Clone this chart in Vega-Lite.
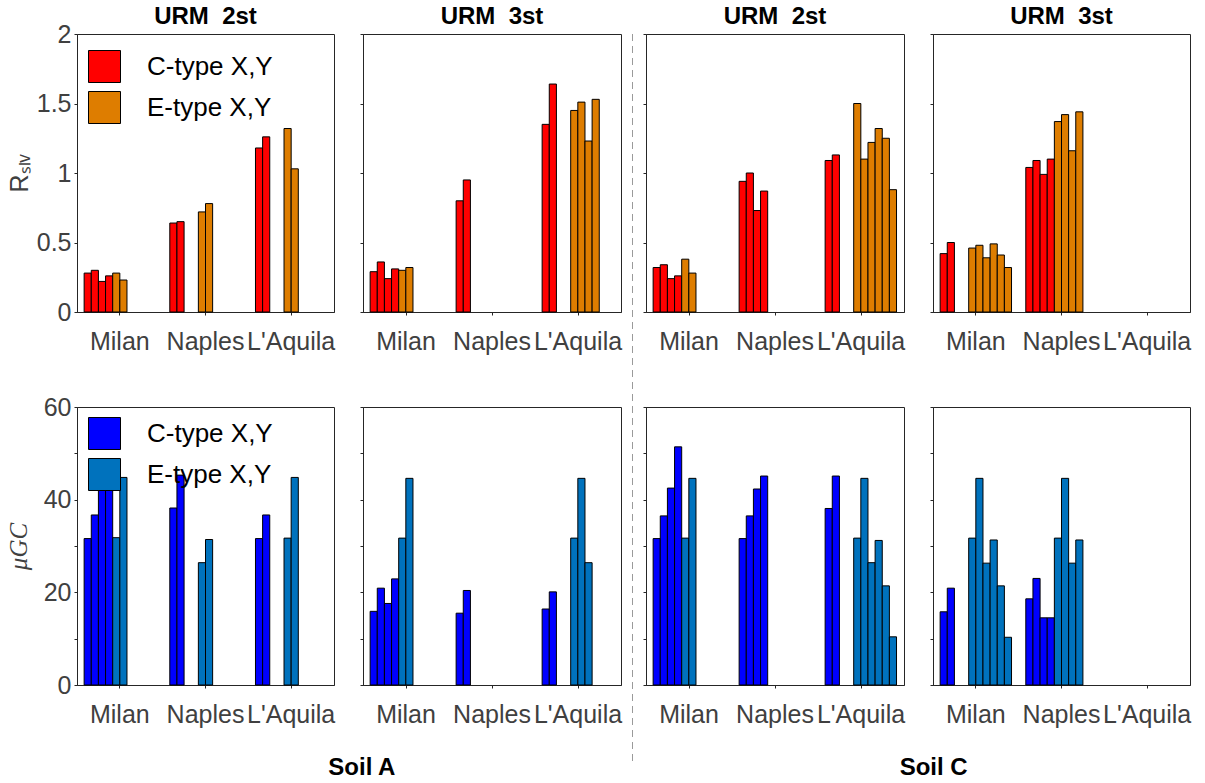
{
  "$schema": "https://vega.github.io/schema/vega-lite/v6.json",
  "background": "white",
  "padding": {"left": 5, "top": 4, "right": 6, "bottom": 4},
  "config": {
    "font": "Liberation Sans",
    "view": {"stroke": "#262626", "strokeWidth": 1},
    "axis": {"labelFont": "Liberation Sans", "labelFontSize": 25, "labelColor": "#404040", "titleFont": "Liberation Sans", "titleFontSize": 25, "titleFontWeight": "normal", "titleColor": "#404040", "domainColor": "#262626", "tickColor": "#262626", "domainWidth": 1, "tickWidth": 1, "tickSize": 3, "grid": false},
    "title": {"font": "Liberation Sans", "fontSize": 24, "fontWeight": "bold", "color": "#000000", "offset": 5, "anchor": "middle"}
  },
  "datasets": {
    "bars": [
      {"metric": "R", "soil": "A", "urm": "2st", "city": "Milan", "slot": 0, "type": "C-type X,Y", "value": 0.28},
      {"metric": "R", "soil": "A", "urm": "2st", "city": "Milan", "slot": 1, "type": "C-type X,Y", "value": 0.30},
      {"metric": "R", "soil": "A", "urm": "2st", "city": "Milan", "slot": 2, "type": "C-type X,Y", "value": 0.22},
      {"metric": "R", "soil": "A", "urm": "2st", "city": "Milan", "slot": 3, "type": "C-type X,Y", "value": 0.26},
      {"metric": "R", "soil": "A", "urm": "2st", "city": "Milan", "slot": 4, "type": "E-type X,Y", "value": 0.28},
      {"metric": "R", "soil": "A", "urm": "2st", "city": "Milan", "slot": 5, "type": "E-type X,Y", "value": 0.23},
      {"metric": "R", "soil": "A", "urm": "2st", "city": "Naples", "slot": 0, "type": "C-type X,Y", "value": 0.64},
      {"metric": "R", "soil": "A", "urm": "2st", "city": "Naples", "slot": 1, "type": "C-type X,Y", "value": 0.65},
      {"metric": "R", "soil": "A", "urm": "2st", "city": "Naples", "slot": 4, "type": "E-type X,Y", "value": 0.72},
      {"metric": "R", "soil": "A", "urm": "2st", "city": "Naples", "slot": 5, "type": "E-type X,Y", "value": 0.78},
      {"metric": "R", "soil": "A", "urm": "2st", "city": "L'Aquila", "slot": 0, "type": "C-type X,Y", "value": 1.18},
      {"metric": "R", "soil": "A", "urm": "2st", "city": "L'Aquila", "slot": 1, "type": "C-type X,Y", "value": 1.26},
      {"metric": "R", "soil": "A", "urm": "2st", "city": "L'Aquila", "slot": 4, "type": "E-type X,Y", "value": 1.32},
      {"metric": "R", "soil": "A", "urm": "2st", "city": "L'Aquila", "slot": 5, "type": "E-type X,Y", "value": 1.03},
      {"metric": "R", "soil": "A", "urm": "3st", "city": "Milan", "slot": 0, "type": "C-type X,Y", "value": 0.29},
      {"metric": "R", "soil": "A", "urm": "3st", "city": "Milan", "slot": 1, "type": "C-type X,Y", "value": 0.36},
      {"metric": "R", "soil": "A", "urm": "3st", "city": "Milan", "slot": 2, "type": "C-type X,Y", "value": 0.24},
      {"metric": "R", "soil": "A", "urm": "3st", "city": "Milan", "slot": 3, "type": "C-type X,Y", "value": 0.31},
      {"metric": "R", "soil": "A", "urm": "3st", "city": "Milan", "slot": 4, "type": "E-type X,Y", "value": 0.30},
      {"metric": "R", "soil": "A", "urm": "3st", "city": "Milan", "slot": 5, "type": "E-type X,Y", "value": 0.32},
      {"metric": "R", "soil": "A", "urm": "3st", "city": "Naples", "slot": 0, "type": "C-type X,Y", "value": 0.80},
      {"metric": "R", "soil": "A", "urm": "3st", "city": "Naples", "slot": 1, "type": "C-type X,Y", "value": 0.95},
      {"metric": "R", "soil": "A", "urm": "3st", "city": "L'Aquila", "slot": 0, "type": "C-type X,Y", "value": 1.35},
      {"metric": "R", "soil": "A", "urm": "3st", "city": "L'Aquila", "slot": 1, "type": "C-type X,Y", "value": 1.64},
      {"metric": "R", "soil": "A", "urm": "3st", "city": "L'Aquila", "slot": 4, "type": "E-type X,Y", "value": 1.45},
      {"metric": "R", "soil": "A", "urm": "3st", "city": "L'Aquila", "slot": 5, "type": "E-type X,Y", "value": 1.51},
      {"metric": "R", "soil": "A", "urm": "3st", "city": "L'Aquila", "slot": 6, "type": "E-type X,Y", "value": 1.23},
      {"metric": "R", "soil": "A", "urm": "3st", "city": "L'Aquila", "slot": 7, "type": "E-type X,Y", "value": 1.53},
      {"metric": "R", "soil": "C", "urm": "2st", "city": "Milan", "slot": 0, "type": "C-type X,Y", "value": 0.32},
      {"metric": "R", "soil": "C", "urm": "2st", "city": "Milan", "slot": 1, "type": "C-type X,Y", "value": 0.34},
      {"metric": "R", "soil": "C", "urm": "2st", "city": "Milan", "slot": 2, "type": "C-type X,Y", "value": 0.24},
      {"metric": "R", "soil": "C", "urm": "2st", "city": "Milan", "slot": 3, "type": "C-type X,Y", "value": 0.26},
      {"metric": "R", "soil": "C", "urm": "2st", "city": "Milan", "slot": 4, "type": "E-type X,Y", "value": 0.38},
      {"metric": "R", "soil": "C", "urm": "2st", "city": "Milan", "slot": 5, "type": "E-type X,Y", "value": 0.28},
      {"metric": "R", "soil": "C", "urm": "2st", "city": "Naples", "slot": 0, "type": "C-type X,Y", "value": 0.94},
      {"metric": "R", "soil": "C", "urm": "2st", "city": "Naples", "slot": 1, "type": "C-type X,Y", "value": 1.00},
      {"metric": "R", "soil": "C", "urm": "2st", "city": "Naples", "slot": 2, "type": "C-type X,Y", "value": 0.73},
      {"metric": "R", "soil": "C", "urm": "2st", "city": "Naples", "slot": 3, "type": "C-type X,Y", "value": 0.87},
      {"metric": "R", "soil": "C", "urm": "2st", "city": "L'Aquila", "slot": 0, "type": "C-type X,Y", "value": 1.09},
      {"metric": "R", "soil": "C", "urm": "2st", "city": "L'Aquila", "slot": 1, "type": "C-type X,Y", "value": 1.13},
      {"metric": "R", "soil": "C", "urm": "2st", "city": "L'Aquila", "slot": 4, "type": "E-type X,Y", "value": 1.50},
      {"metric": "R", "soil": "C", "urm": "2st", "city": "L'Aquila", "slot": 5, "type": "E-type X,Y", "value": 1.10},
      {"metric": "R", "soil": "C", "urm": "2st", "city": "L'Aquila", "slot": 6, "type": "E-type X,Y", "value": 1.22},
      {"metric": "R", "soil": "C", "urm": "2st", "city": "L'Aquila", "slot": 7, "type": "E-type X,Y", "value": 1.32},
      {"metric": "R", "soil": "C", "urm": "2st", "city": "L'Aquila", "slot": 8, "type": "E-type X,Y", "value": 1.25},
      {"metric": "R", "soil": "C", "urm": "2st", "city": "L'Aquila", "slot": 9, "type": "E-type X,Y", "value": 0.88},
      {"metric": "R", "soil": "C", "urm": "3st", "city": "Milan", "slot": 0, "type": "C-type X,Y", "value": 0.42},
      {"metric": "R", "soil": "C", "urm": "3st", "city": "Milan", "slot": 1, "type": "C-type X,Y", "value": 0.50},
      {"metric": "R", "soil": "C", "urm": "3st", "city": "Milan", "slot": 4, "type": "E-type X,Y", "value": 0.46},
      {"metric": "R", "soil": "C", "urm": "3st", "city": "Milan", "slot": 5, "type": "E-type X,Y", "value": 0.48},
      {"metric": "R", "soil": "C", "urm": "3st", "city": "Milan", "slot": 6, "type": "E-type X,Y", "value": 0.39},
      {"metric": "R", "soil": "C", "urm": "3st", "city": "Milan", "slot": 7, "type": "E-type X,Y", "value": 0.49},
      {"metric": "R", "soil": "C", "urm": "3st", "city": "Milan", "slot": 8, "type": "E-type X,Y", "value": 0.41},
      {"metric": "R", "soil": "C", "urm": "3st", "city": "Milan", "slot": 9, "type": "E-type X,Y", "value": 0.32},
      {"metric": "R", "soil": "C", "urm": "3st", "city": "Naples", "slot": 0, "type": "C-type X,Y", "value": 1.04},
      {"metric": "R", "soil": "C", "urm": "3st", "city": "Naples", "slot": 1, "type": "C-type X,Y", "value": 1.09},
      {"metric": "R", "soil": "C", "urm": "3st", "city": "Naples", "slot": 2, "type": "C-type X,Y", "value": 0.99},
      {"metric": "R", "soil": "C", "urm": "3st", "city": "Naples", "slot": 3, "type": "C-type X,Y", "value": 1.10},
      {"metric": "R", "soil": "C", "urm": "3st", "city": "Naples", "slot": 4, "type": "E-type X,Y", "value": 1.37},
      {"metric": "R", "soil": "C", "urm": "3st", "city": "Naples", "slot": 5, "type": "E-type X,Y", "value": 1.42},
      {"metric": "R", "soil": "C", "urm": "3st", "city": "Naples", "slot": 6, "type": "E-type X,Y", "value": 1.16},
      {"metric": "R", "soil": "C", "urm": "3st", "city": "Naples", "slot": 7, "type": "E-type X,Y", "value": 1.44},
      {"metric": "mu", "soil": "A", "urm": "2st", "city": "Milan", "slot": 0, "type": "C-type X,Y", "value": 31.6},
      {"metric": "mu", "soil": "A", "urm": "2st", "city": "Milan", "slot": 1, "type": "C-type X,Y", "value": 36.7},
      {"metric": "mu", "soil": "A", "urm": "2st", "city": "Milan", "slot": 2, "type": "C-type X,Y", "value": 42.5},
      {"metric": "mu", "soil": "A", "urm": "2st", "city": "Milan", "slot": 3, "type": "C-type X,Y", "value": 45.3},
      {"metric": "mu", "soil": "A", "urm": "2st", "city": "Milan", "slot": 4, "type": "E-type X,Y", "value": 31.8},
      {"metric": "mu", "soil": "A", "urm": "2st", "city": "Milan", "slot": 5, "type": "E-type X,Y", "value": 44.8},
      {"metric": "mu", "soil": "A", "urm": "2st", "city": "Naples", "slot": 0, "type": "C-type X,Y", "value": 38.2},
      {"metric": "mu", "soil": "A", "urm": "2st", "city": "Naples", "slot": 1, "type": "C-type X,Y", "value": 45.3},
      {"metric": "mu", "soil": "A", "urm": "2st", "city": "Naples", "slot": 4, "type": "E-type X,Y", "value": 26.4},
      {"metric": "mu", "soil": "A", "urm": "2st", "city": "Naples", "slot": 5, "type": "E-type X,Y", "value": 31.4},
      {"metric": "mu", "soil": "A", "urm": "2st", "city": "L'Aquila", "slot": 0, "type": "C-type X,Y", "value": 31.6},
      {"metric": "mu", "soil": "A", "urm": "2st", "city": "L'Aquila", "slot": 1, "type": "C-type X,Y", "value": 36.7},
      {"metric": "mu", "soil": "A", "urm": "2st", "city": "L'Aquila", "slot": 4, "type": "E-type X,Y", "value": 31.7},
      {"metric": "mu", "soil": "A", "urm": "2st", "city": "L'Aquila", "slot": 5, "type": "E-type X,Y", "value": 44.8},
      {"metric": "mu", "soil": "A", "urm": "3st", "city": "Milan", "slot": 0, "type": "C-type X,Y", "value": 15.9},
      {"metric": "mu", "soil": "A", "urm": "3st", "city": "Milan", "slot": 1, "type": "C-type X,Y", "value": 20.9},
      {"metric": "mu", "soil": "A", "urm": "3st", "city": "Milan", "slot": 2, "type": "C-type X,Y", "value": 17.6},
      {"metric": "mu", "soil": "A", "urm": "3st", "city": "Milan", "slot": 3, "type": "C-type X,Y", "value": 22.9},
      {"metric": "mu", "soil": "A", "urm": "3st", "city": "Milan", "slot": 4, "type": "E-type X,Y", "value": 31.7},
      {"metric": "mu", "soil": "A", "urm": "3st", "city": "Milan", "slot": 5, "type": "E-type X,Y", "value": 44.6},
      {"metric": "mu", "soil": "A", "urm": "3st", "city": "Naples", "slot": 0, "type": "C-type X,Y", "value": 15.5},
      {"metric": "mu", "soil": "A", "urm": "3st", "city": "Naples", "slot": 1, "type": "C-type X,Y", "value": 20.4},
      {"metric": "mu", "soil": "A", "urm": "3st", "city": "L'Aquila", "slot": 0, "type": "C-type X,Y", "value": 16.4},
      {"metric": "mu", "soil": "A", "urm": "3st", "city": "L'Aquila", "slot": 1, "type": "C-type X,Y", "value": 20.1},
      {"metric": "mu", "soil": "A", "urm": "3st", "city": "L'Aquila", "slot": 4, "type": "E-type X,Y", "value": 31.7},
      {"metric": "mu", "soil": "A", "urm": "3st", "city": "L'Aquila", "slot": 5, "type": "E-type X,Y", "value": 44.6},
      {"metric": "mu", "soil": "A", "urm": "3st", "city": "L'Aquila", "slot": 6, "type": "E-type X,Y", "value": 26.4},
      {"metric": "mu", "soil": "C", "urm": "2st", "city": "Milan", "slot": 0, "type": "C-type X,Y", "value": 31.6},
      {"metric": "mu", "soil": "C", "urm": "2st", "city": "Milan", "slot": 1, "type": "C-type X,Y", "value": 36.5},
      {"metric": "mu", "soil": "C", "urm": "2st", "city": "Milan", "slot": 2, "type": "C-type X,Y", "value": 42.5},
      {"metric": "mu", "soil": "C", "urm": "2st", "city": "Milan", "slot": 3, "type": "C-type X,Y", "value": 51.4},
      {"metric": "mu", "soil": "C", "urm": "2st", "city": "Milan", "slot": 4, "type": "E-type X,Y", "value": 31.7},
      {"metric": "mu", "soil": "C", "urm": "2st", "city": "Milan", "slot": 5, "type": "E-type X,Y", "value": 44.6},
      {"metric": "mu", "soil": "C", "urm": "2st", "city": "Naples", "slot": 0, "type": "C-type X,Y", "value": 31.6},
      {"metric": "mu", "soil": "C", "urm": "2st", "city": "Naples", "slot": 1, "type": "C-type X,Y", "value": 36.5},
      {"metric": "mu", "soil": "C", "urm": "2st", "city": "Naples", "slot": 2, "type": "C-type X,Y", "value": 42.3},
      {"metric": "mu", "soil": "C", "urm": "2st", "city": "Naples", "slot": 3, "type": "C-type X,Y", "value": 45.1},
      {"metric": "mu", "soil": "C", "urm": "2st", "city": "L'Aquila", "slot": 0, "type": "C-type X,Y", "value": 38.1},
      {"metric": "mu", "soil": "C", "urm": "2st", "city": "L'Aquila", "slot": 1, "type": "C-type X,Y", "value": 45.1},
      {"metric": "mu", "soil": "C", "urm": "2st", "city": "L'Aquila", "slot": 4, "type": "E-type X,Y", "value": 31.7},
      {"metric": "mu", "soil": "C", "urm": "2st", "city": "L'Aquila", "slot": 5, "type": "E-type X,Y", "value": 44.6},
      {"metric": "mu", "soil": "C", "urm": "2st", "city": "L'Aquila", "slot": 6, "type": "E-type X,Y", "value": 26.4},
      {"metric": "mu", "soil": "C", "urm": "2st", "city": "L'Aquila", "slot": 7, "type": "E-type X,Y", "value": 31.2},
      {"metric": "mu", "soil": "C", "urm": "2st", "city": "L'Aquila", "slot": 8, "type": "E-type X,Y", "value": 21.4},
      {"metric": "mu", "soil": "C", "urm": "2st", "city": "L'Aquila", "slot": 9, "type": "E-type X,Y", "value": 10.4},
      {"metric": "mu", "soil": "C", "urm": "3st", "city": "Milan", "slot": 0, "type": "C-type X,Y", "value": 15.8},
      {"metric": "mu", "soil": "C", "urm": "3st", "city": "Milan", "slot": 1, "type": "C-type X,Y", "value": 20.9},
      {"metric": "mu", "soil": "C", "urm": "3st", "city": "Milan", "slot": 4, "type": "E-type X,Y", "value": 31.7},
      {"metric": "mu", "soil": "C", "urm": "3st", "city": "Milan", "slot": 5, "type": "E-type X,Y", "value": 44.6},
      {"metric": "mu", "soil": "C", "urm": "3st", "city": "Milan", "slot": 6, "type": "E-type X,Y", "value": 26.3},
      {"metric": "mu", "soil": "C", "urm": "3st", "city": "Milan", "slot": 7, "type": "E-type X,Y", "value": 31.3},
      {"metric": "mu", "soil": "C", "urm": "3st", "city": "Milan", "slot": 8, "type": "E-type X,Y", "value": 21.4},
      {"metric": "mu", "soil": "C", "urm": "3st", "city": "Milan", "slot": 9, "type": "E-type X,Y", "value": 10.3},
      {"metric": "mu", "soil": "C", "urm": "3st", "city": "Naples", "slot": 0, "type": "C-type X,Y", "value": 18.6},
      {"metric": "mu", "soil": "C", "urm": "3st", "city": "Naples", "slot": 1, "type": "C-type X,Y", "value": 23.0},
      {"metric": "mu", "soil": "C", "urm": "3st", "city": "Naples", "slot": 2, "type": "C-type X,Y", "value": 14.5},
      {"metric": "mu", "soil": "C", "urm": "3st", "city": "Naples", "slot": 3, "type": "C-type X,Y", "value": 14.5},
      {"metric": "mu", "soil": "C", "urm": "3st", "city": "Naples", "slot": 4, "type": "E-type X,Y", "value": 31.7},
      {"metric": "mu", "soil": "C", "urm": "3st", "city": "Naples", "slot": 5, "type": "E-type X,Y", "value": 44.6},
      {"metric": "mu", "soil": "C", "urm": "3st", "city": "Naples", "slot": 6, "type": "E-type X,Y", "value": 26.3},
      {"metric": "mu", "soil": "C", "urm": "3st", "city": "Naples", "slot": 7, "type": "E-type X,Y", "value": 31.3}
    ]
  },
  "spacing": 9,
  "resolve": {"scale": {"color": "independent"}, "legend": {"color": "independent"}},
  "hconcat": [
    {
      "title": {"text": "Soil A", "orient": "bottom", "offset": 28, "dx": 48, "frame": "bounds"},
      "spacing": 22,
      "resolve": {"scale": {"color": "independent"}, "legend": {"color": "independent"}},
      "vconcat": [
        {
          "spacing": 23,
          "resolve": {"scale": {"color": "independent"}, "legend": {"color": "independent"}},
          "hconcat": [
            {
              "width": 257, "height": 278,
              "title": {"text": "URM\u00a0 2st", "dy": 12},
              "data": {"name": "bars"},
              "transform": [{"filter": "datum.metric === 'R' && datum.soil === 'A' && datum.urm === '2st'"}],
              "mark": {"type": "bar", "stroke": "#000000", "strokeWidth": 1},
              "encoding": {
                "x": {"field": "city", "type": "nominal", "scale": {"domain": ["Milan", "Naples", "L'Aquila"], "paddingInner": 0, "paddingOuter": 0}, "axis": {"title": null, "labelAngle": 0, "labelPadding": 14}},
                "xOffset": {"field": "slot", "type": "ordinal", "scale": {"domain": [0, 1, 2, 3, 4, 5, 6, 7], "paddingInner": 0, "paddingOuter": 1}},
                "y": {"field": "value", "type": "quantitative", "scale": {"domain": [0, 2], "nice": false}, "axis": {"values": [0, 0.5, 1, 1.5, 2], "format": "~g", "title": "Rₛₗᵥ", "labelPadding": 3, "titlePadding": 4}},
                "color": {"field": "type", "type": "nominal", "scale": {"domain": ["C-type X,Y", "E-type X,Y"], "range": ["#FF0000", "#DE7D00"]},
                  "legend": {"title": null, "orient": "none", "legendX": 11, "legendY": 16, "padding": 0, "symbolType": "square", "symbolSize": 1024, "symbolStrokeColor": "#000000", "symbolStrokeWidth": 1, "labelFontSize": 26, "labelFont": "Liberation Sans", "labelColor": "#000000", "labelOffset": 26, "labelLimit": 400, "rowPadding": 4}}
              }
            },
            {
              "width": 258, "height": 278,
              "title": {"text": "URM\u00a0 3st"},
              "data": {"name": "bars"},
              "transform": [{"filter": "datum.metric === 'R' && datum.soil === 'A' && datum.urm === '3st'"}],
              "mark": {"type": "bar", "stroke": "#000000", "strokeWidth": 1},
              "encoding": {
                "x": {"field": "city", "type": "nominal", "scale": {"domain": ["Milan", "Naples", "L'Aquila"], "paddingInner": 0, "paddingOuter": 0}, "axis": {"title": null, "labelAngle": 0, "labelPadding": 14}},
                "xOffset": {"field": "slot", "type": "ordinal", "scale": {"domain": [0, 1, 2, 3, 4, 5, 6, 7, 8, 9], "paddingInner": 0, "paddingOuter": 1.25}},
                "y": {"field": "value", "type": "quantitative", "scale": {"domain": [0, 2], "nice": false}, "axis": {"values": [0, 0.5, 1, 1.5, 2], "labels": false, "title": null}},
                "color": {"field": "type", "type": "nominal", "scale": {"domain": ["C-type X,Y", "E-type X,Y"], "range": ["#FF0000", "#DE7D00"]}, "legend": null}
              }
            }
          ]
        },
        {
          "spacing": 23,
          "resolve": {"scale": {"color": "independent"}, "legend": {"color": "independent"}},
          "hconcat": [
            {
              "width": 257, "height": 278,
              "title": {"text": "\u00a0", "dy": 12},
              "data": {"name": "bars"},
              "transform": [{"filter": "datum.metric === 'mu' && datum.soil === 'A' && datum.urm === '2st'"}],
              "mark": {"type": "bar", "stroke": "#000000", "strokeWidth": 1},
              "encoding": {
                "x": {"field": "city", "type": "nominal", "scale": {"domain": ["Milan", "Naples", "L'Aquila"], "paddingInner": 0, "paddingOuter": 0}, "axis": {"title": null, "labelAngle": 0, "labelPadding": 14}},
                "xOffset": {"field": "slot", "type": "ordinal", "scale": {"domain": [0, 1, 2, 3, 4, 5, 6, 7], "paddingInner": 0, "paddingOuter": 1}},
                "y": {"field": "value", "type": "quantitative", "scale": {"domain": [0, 60], "nice": false}, "axis": {"values": [0, 10, 20, 30, 40, 50, 60], "labelExpr": "datum.value % 20 === 0 ? datum.label : ''", "title": "μGC", "titleFont": "Liberation Serif", "titleFontStyle": "italic", "labelPadding": 3, "titlePadding": 12}},
                "color": {"field": "type", "type": "nominal", "scale": {"domain": ["C-type X,Y", "E-type X,Y"], "range": ["#0000FF", "#0072BD"]},
                  "legend": {"title": null, "orient": "none", "legendX": 11, "legendY": 10, "padding": 0, "symbolType": "square", "symbolSize": 1024, "symbolStrokeColor": "#000000", "symbolStrokeWidth": 1, "labelFontSize": 26, "labelFont": "Liberation Sans", "labelColor": "#000000", "labelOffset": 26, "labelLimit": 400, "rowPadding": 4}}
              }
            },
            {
              "width": 258, "height": 278,
              "title": {"text": "\u00a0"},
              "data": {"name": "bars"},
              "transform": [{"filter": "datum.metric === 'mu' && datum.soil === 'A' && datum.urm === '3st'"}],
              "mark": {"type": "bar", "stroke": "#000000", "strokeWidth": 1},
              "encoding": {
                "x": {"field": "city", "type": "nominal", "scale": {"domain": ["Milan", "Naples", "L'Aquila"], "paddingInner": 0, "paddingOuter": 0}, "axis": {"title": null, "labelAngle": 0, "labelPadding": 14}},
                "xOffset": {"field": "slot", "type": "ordinal", "scale": {"domain": [0, 1, 2, 3, 4, 5, 6, 7, 8, 9], "paddingInner": 0, "paddingOuter": 1.25}},
                "y": {"field": "value", "type": "quantitative", "scale": {"domain": [0, 60], "nice": false}, "axis": {"values": [0, 10, 20, 30, 40, 50, 60], "labels": false, "title": null}},
                "color": {"field": "type", "type": "nominal", "scale": {"domain": ["C-type X,Y", "E-type X,Y"], "range": ["#0000FF", "#0072BD"]}, "legend": null}
              }
            }
          ]
        }
      ]
    },
    {
      "width": 1, "height": 731,
      "view": {"stroke": null},
      "data": {"values": [{}]},
      "mark": {"type": "rule", "color": "#9a9a9a", "strokeDash": [7, 5], "strokeWidth": 1},
      "encoding": {"x": {"datum": 0, "type": "quantitative", "scale": {"domain": [-1, 1]}, "axis": null}}
    },
    {
      "title": {"text": "Soil C", "orient": "bottom", "offset": 28, "dx": 17, "frame": "bounds"},
      "spacing": 22,
      "resolve": {"scale": {"color": "independent"}, "legend": {"color": "independent"}},
      "vconcat": [
        {
          "spacing": 23,
          "resolve": {"scale": {"color": "independent"}, "legend": {"color": "independent"}},
          "hconcat": [
            {
              "width": 258, "height": 278,
              "title": {"text": "URM\u00a0 2st"},
              "data": {"name": "bars"},
              "transform": [{"filter": "datum.metric === 'R' && datum.soil === 'C' && datum.urm === '2st'"}],
              "mark": {"type": "bar", "stroke": "#000000", "strokeWidth": 1},
              "encoding": {
                "x": {"field": "city", "type": "nominal", "scale": {"domain": ["Milan", "Naples", "L'Aquila"], "paddingInner": 0, "paddingOuter": 0}, "axis": {"title": null, "labelAngle": 0, "labelPadding": 14}},
                "xOffset": {"field": "slot", "type": "ordinal", "scale": {"domain": [0, 1, 2, 3, 4, 5, 6, 7, 8, 9], "paddingInner": 0, "paddingOuter": 1.25}},
                "y": {"field": "value", "type": "quantitative", "scale": {"domain": [0, 2], "nice": false}, "axis": {"values": [0, 0.5, 1, 1.5, 2], "labels": false, "title": null}},
                "color": {"field": "type", "type": "nominal", "scale": {"domain": ["C-type X,Y", "E-type X,Y"], "range": ["#FF0000", "#DE7D00"]}, "legend": null}
              }
            },
            {
              "width": 257, "height": 278,
              "title": {"text": "URM\u00a0 3st"},
              "data": {"name": "bars"},
              "transform": [{"filter": "datum.metric === 'R' && datum.soil === 'C' && datum.urm === '3st'"}],
              "mark": {"type": "bar", "stroke": "#000000", "strokeWidth": 1},
              "encoding": {
                "x": {"field": "city", "type": "nominal", "scale": {"domain": ["Milan", "Naples", "L'Aquila"], "paddingInner": 0, "paddingOuter": 0}, "axis": {"title": null, "labelAngle": 0, "labelPadding": 14}},
                "xOffset": {"field": "slot", "type": "ordinal", "scale": {"domain": [0, 1, 2, 3, 4, 5, 6, 7, 8, 9], "paddingInner": 0, "paddingOuter": 1.25}},
                "y": {"field": "value", "type": "quantitative", "scale": {"domain": [0, 2], "nice": false}, "axis": {"values": [0, 0.5, 1, 1.5, 2], "labels": false, "title": null}},
                "color": {"field": "type", "type": "nominal", "scale": {"domain": ["C-type X,Y", "E-type X,Y"], "range": ["#FF0000", "#DE7D00"]}, "legend": null}
              }
            }
          ]
        },
        {
          "spacing": 23,
          "resolve": {"scale": {"color": "independent"}, "legend": {"color": "independent"}},
          "hconcat": [
            {
              "width": 258, "height": 278,
              "title": {"text": "\u00a0"},
              "data": {"name": "bars"},
              "transform": [{"filter": "datum.metric === 'mu' && datum.soil === 'C' && datum.urm === '2st'"}],
              "mark": {"type": "bar", "stroke": "#000000", "strokeWidth": 1},
              "encoding": {
                "x": {"field": "city", "type": "nominal", "scale": {"domain": ["Milan", "Naples", "L'Aquila"], "paddingInner": 0, "paddingOuter": 0}, "axis": {"title": null, "labelAngle": 0, "labelPadding": 14}},
                "xOffset": {"field": "slot", "type": "ordinal", "scale": {"domain": [0, 1, 2, 3, 4, 5, 6, 7, 8, 9], "paddingInner": 0, "paddingOuter": 1.25}},
                "y": {"field": "value", "type": "quantitative", "scale": {"domain": [0, 60], "nice": false}, "axis": {"values": [0, 10, 20, 30, 40, 50, 60], "labels": false, "title": null}},
                "color": {"field": "type", "type": "nominal", "scale": {"domain": ["C-type X,Y", "E-type X,Y"], "range": ["#0000FF", "#0072BD"]}, "legend": null}
              }
            },
            {
              "width": 257, "height": 278,
              "title": {"text": "\u00a0"},
              "data": {"name": "bars"},
              "transform": [{"filter": "datum.metric === 'mu' && datum.soil === 'C' && datum.urm === '3st'"}],
              "mark": {"type": "bar", "stroke": "#000000", "strokeWidth": 1},
              "encoding": {
                "x": {"field": "city", "type": "nominal", "scale": {"domain": ["Milan", "Naples", "L'Aquila"], "paddingInner": 0, "paddingOuter": 0}, "axis": {"title": null, "labelAngle": 0, "labelPadding": 14}},
                "xOffset": {"field": "slot", "type": "ordinal", "scale": {"domain": [0, 1, 2, 3, 4, 5, 6, 7, 8, 9], "paddingInner": 0, "paddingOuter": 1.25}},
                "y": {"field": "value", "type": "quantitative", "scale": {"domain": [0, 60], "nice": false}, "axis": {"values": [0, 10, 20, 30, 40, 50, 60], "labels": false, "title": null}},
                "color": {"field": "type", "type": "nominal", "scale": {"domain": ["C-type X,Y", "E-type X,Y"], "range": ["#0000FF", "#0072BD"]}, "legend": null}
              }
            }
          ]
        }
      ]
    }
  ]
}
